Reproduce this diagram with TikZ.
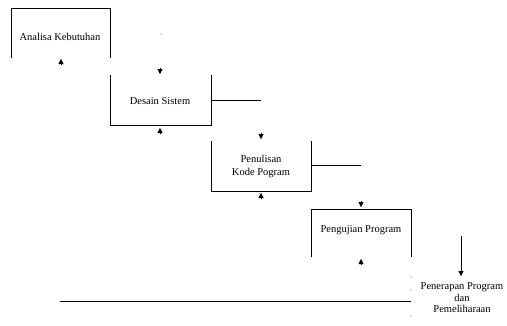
\documentclass[tikz,border=0pt]{standalone}
\usepackage{fontspec}
\setmainfont{Liberation Serif}
\usetikzlibrary{arrows.meta}
\begin{document}
\begin{tikzpicture}[x=1pt,y=-1pt,
  edge/.style={line width=0.9pt,black},
  tip/.style={-{Triangle[width=5pt,length=5pt]},line width=0.4pt},
  lbl/.style={font=\fontsize{10.5}{11}\selectfont,inner sep=0pt,align=center},
  dot/.style={fill=black!60}]
\useasboundingbox (0,0) rectangle (507,325);
% box 1
\draw[edge] (11,58) -- (11,8) -- (110,8) -- (110,58);
\node[lbl] (t1) at (60,37) {Analisa Kebutuhan};
% box 2
\draw[edge] (110,75) -- (110,125) -- (211,125) -- (211,75);
\draw[edge] (211,100) -- (261,100);
\node[lbl] (t2) at (160,101) {Desain Sistem};
% box 3
\draw[edge] (211,141) -- (211,191) -- (311,191) -- (311,141);
\draw[edge] (311,165) -- (361,165);
\node[lbl,font=\fontsize{10.5}{13}\selectfont] (t3) at (261,166) {Penulisan\\Kode Pogram};
% box 4
\draw[edge] (311,257) -- (311,209) -- (411,209) -- (411,257);
\node[lbl] (t4) at (361,230) {Pengujian Program};
% box 5
\draw[edge] (461,236) -- (461,270);
\node[lbl,font=\fontsize{10.5}{11.5}\selectfont] (t5) at (462,298) {Penerapan Program\\dan\\Pemeliharaan};
\draw[edge] (60,301) -- (411,301);
% arrow tips
\coordinate (a1) at (61,59);  \draw[tip] (61,65) -- (a1);
\coordinate (a2) at (160,74); \draw[tip] (160,68) -- (a2);
\coordinate (a3) at (160,128); \draw[tip] (160,134) -- (a3);
\coordinate (a4) at (261,139); \draw[tip] (261,133) -- (a4);
\coordinate (a5) at (261,193); \draw[tip] (261,199) -- (a5);
\coordinate (a6) at (361,207); \draw[tip] (361,201) -- (a6);
\coordinate (a7) at (361,259); \draw[tip] (361,265) -- (a7);
\coordinate (a8) at (461,276); \draw[tip] (461,270) -- (a8);
% stray dots
\fill[dot] (161,34) circle (0.6);
\fill[dot] (411,277) circle (0.6);
\fill[dot] (411,290) circle (0.6);
\fill[dot] (411,316) circle (0.6);
\end{tikzpicture}
\end{document}
